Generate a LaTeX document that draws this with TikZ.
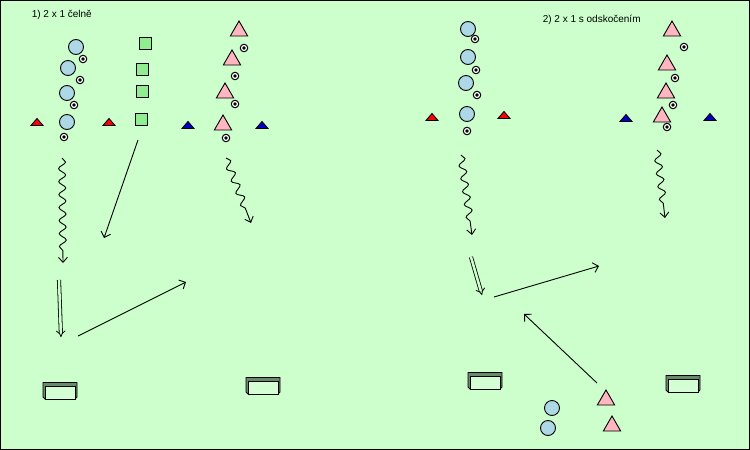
\documentclass[tikz,border=0pt]{standalone}
\usepackage{fontspec}
\setmainfont{Liberation Sans}
\usetikzlibrary{shapes.geometric,arrows.meta,decorations.pathmorphing}
\definecolor{travnik}{HTML}{CCFFCC}
\definecolor{modra}{HTML}{ADD8E6}
\definecolor{ruzova}{HTML}{FFB6C1}
\definecolor{zelena}{HTML}{90EE90}
\definecolor{ram}{HTML}{6A886A}
\begin{document}
\begin{tikzpicture}[x=1pt, y=-1pt, line width=0.9pt]
	\tikzset{hrac/.style={circle, draw=black, fill=modra, minimum size=15pt, inner sep=0},
		ctverec/.style={rectangle, draw=black, fill=zelena, minimum size=12pt, inner sep=0},
		trojuhelnik/.style={regular polygon, regular polygon sides=3, draw=black, fill=ruzova, minimum size=20pt, inner sep=0},
		mic/.style={circle, draw=black, fill=white, line width=1pt, minimum size=7.5pt, inner sep=0,
			path picture={\fill[black] (path picture bounding box.center) circle (1.8pt);}},
		kuzel/.pic={\filldraw[fill=#1, draw=black] (-6,3.5) -- (6,3.5) -- (0,-3.5) -- cycle;},
		branka/.pic={\filldraw[fill=ram, draw=black] (-17,-8.5) -- (17,-8.5) -- (17,6) -- (15,8) -- (-15,8) -- (-17,6) -- cycle;
			\filldraw[fill=travnik!85!white, draw=black, line width=1pt] (-15,-5) rectangle (15,8);},
		vedeni/.style={decorate, decoration={snake, amplitude=3.5pt, segment length=13pt, post length=10pt}, -{Straight Barb[length=5pt, width=9pt]}},
		prihravka/.style={-{Straight Barb[length=5pt, width=10pt]}},
		beh/.style={double=travnik, double distance=2.5pt, line width=0.8pt, -{Implies}}}
	\useasboundingbox (0,0) rectangle (750,450);
	\filldraw[fill=travnik, draw=black, line width=1.2pt] (0.6,0.6) rectangle (749.4,449.4);

	% 1) 2 x 1 celne
	\node[anchor=west, font=\fontsize{10}{12}\selectfont] at (28, 15) (nadpis1) {1) 2 x 1 čelně};

	\node[hrac] at (76, 47) (a1) {};
	\node[hrac] at (68, 68) (a2) {};
	\node[hrac] at (67, 93) (a3) {};
	\node[hrac] at (67, 122) (a4) {};
	\node[mic] at (83, 59) (ma1) {};
	\node[mic] at (80, 80) (ma2) {};
	\node[mic] at (74, 105) (ma3) {};
	\node[mic] at (64, 137) (ma4) {};

	\node[ctverec] at (145, 43) (s1) {};
	\node[ctverec] at (142, 69) (s2) {};
	\node[ctverec] at (142, 91) (s3) {};
	\node[ctverec] at (141, 119) (s4) {};

	\node[trojuhelnik] at (239, 31) (b1) {};
	\node[trojuhelnik] at (232, 60) (b2) {};
	\node[trojuhelnik] at (225, 93) (b3) {};
	\node[trojuhelnik] at (223, 125) (b4) {};
	\node[mic] at (244, 48) (mb1) {};
	\node[mic] at (235, 76) (mb2) {};
	\node[mic] at (235, 104) (mb3) {};
	\node[mic] at (226, 138) (mb4) {};

	% Cones
	\pic at (37, 122) {kuzel=red};
	\pic at (109, 122) {kuzel=red};
	\pic at (188, 125) {kuzel=blue!80!black};
	\pic at (262, 125) {kuzel=blue!80!black};

	% Goals
	\pic at (60, 391) {branka};
	\pic at (263, 386) {branka};

	\coordinate (v1s) at (62, 158);
	\coordinate (v1e) at (63, 263);
	\coordinate (p1s) at (138, 140);
	\coordinate (p1e) at (104, 238);
	\coordinate (v2s) at (226, 158);
	\coordinate (v2e) at (251, 223);
	\coordinate (r1s) at (59, 280);
	\coordinate (r1e) at (61, 337);
	\coordinate (p2s) at (78, 336);
	\coordinate (p2e) at (186, 282);

	% Arrows
	\draw[vedeni] (v1s) -- (v1e);
	\draw[prihravka] (p1s) -- (p1e);
	\draw[vedeni] (v2s) -- (v2e);
	\draw[beh] (r1s) -- (r1e);
	\draw[prihravka] (p2s) -- (p2e);

	% 2) 2 x 1 s odskocenim
	\node[anchor=west, font=\fontsize{10}{12}\selectfont] at (539, 20) (nadpis2) {2) 2 x 1 s odskočením};

	\node[hrac] at (468, 29) (c1) {};
	\node[hrac] at (468, 57) (c2) {};
	\node[hrac] at (466, 83) (c3) {};
	\node[hrac] at (467, 114) (c4) {};
	\node[mic] at (475, 39) (mc1) {};
	\node[mic] at (476, 70) (mc2) {};
	\node[mic] at (477, 95) (mc3) {};
	\node[mic] at (467, 131) (mc4) {};

	\node[trojuhelnik] at (672, 31) (d1) {};
	\node[trojuhelnik] at (667, 65) (d2) {};
	\node[trojuhelnik] at (666, 93) (d3) {};
	\node[trojuhelnik] at (662, 117) (d4) {};
	\node[mic] at (684, 47) (md1) {};
	\node[mic] at (675, 78) (md2) {};
	\node[mic] at (673, 105) (md3) {};
	\node[mic] at (667, 127) (md4) {};

	\node[hrac] at (552, 408) (e1) {};
	\node[hrac] at (548, 428) (e2) {};
	\node[trojuhelnik] at (606, 400) (f1) {};
	\node[trojuhelnik] at (612, 426) (f2) {};

	% Cones
	\pic at (432, 117) {kuzel=red};
	\pic at (504, 115) {kuzel=red};
	\pic at (626, 118) {kuzel=blue!80!black};
	\pic at (710, 117) {kuzel=blue!80!black};

	% Goals
	\pic at (485, 381) {branka};
	\pic at (683, 384) {branka};

	\coordinate (v3s) at (461, 155);
	\coordinate (v3e) at (472, 235);
	\coordinate (v4s) at (657, 150);
	\coordinate (v4e) at (665, 218);
	\coordinate (r2s) at (471, 257);
	\coordinate (r2e) at (482, 295);
	\coordinate (p3s) at (494, 297);
	\coordinate (p3e) at (599, 266);
	\coordinate (p4s) at (597, 383);
	\coordinate (p4e) at (524, 314);

	% Arrows
	\draw[vedeni] (v3s) -- (v3e);
	\draw[vedeni] (v4s) -- (v4e);
	\draw[beh] (r2s) -- (r2e);
	\draw[prihravka] (p3s) -- (p3e);
	\draw[prihravka] (p4s) -- (p4e);
\end{tikzpicture}
\end{document}
